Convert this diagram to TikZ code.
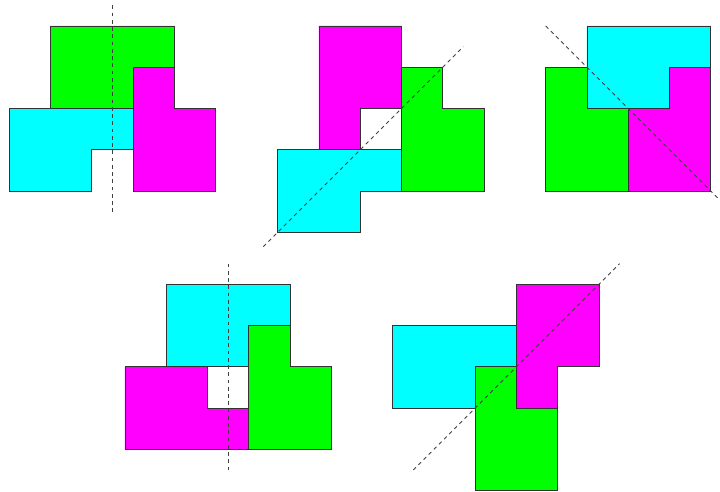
\documentclass[tikz,border=0pt]{standalone}
\definecolor{pcyan}{RGB}{0,255,255}
\definecolor{pmagenta}{RGB}{255,0,255}
\definecolor{pgreen}{RGB}{0,255,0}
\begin{document}
\begin{tikzpicture}[x=1cm,y=-1cm,
  piece/.style={draw=black!80,line width=.6pt},
  axe/.style={draw=black!75,dash pattern=on 2.6pt off 2.4pt,line width=.6pt}]
\useasboundingbox (0,0) rectangle (17.455,11.927);
% ligne du haut
\begin{scope}[shift={(0.2255,0.630)}]
\draw[piece,fill=pgreen] (1,0)--(4,0)--(4,1)--(3,1)--(3,2)--(1,2)--cycle;
\draw[piece,fill=pmagenta] (3,1)--(4,1)--(4,2)--(5,2)--(5,4)--(3,4)--cycle;
\draw[piece,fill=pcyan] (0,2)--(3,2)--(3,3)--(2,3)--(2,4)--(0,4)--cycle;
\draw[axe] (2.5,-0.5)--(2.5,4.5);
\end{scope}
\begin{scope}[shift={(6.732,0.630)}]
\draw[piece,fill=pmagenta] (1,0)--(3,0)--(3,2)--(2,2)--(2,3)--(1,3)--cycle;
\draw[piece,fill=pgreen] (3,1)--(4,1)--(4,2)--(5,2)--(5,4)--(3,4)--cycle;
\draw[piece,fill=pcyan] (0,3)--(3,3)--(3,4)--(2,4)--(2,5)--(0,5)--cycle;
\draw[axe] (-0.35,5.35)--(4.5,0.5);
\end{scope}
\begin{scope}[shift={(13.229,0.630)}]
\draw[piece,fill=pcyan] (1,0)--(4,0)--(4,1)--(3,1)--(3,2)--(1,2)--cycle;
\draw[piece,fill=pgreen] (0,1)--(1,1)--(1,2)--(2,2)--(2,4)--(0,4)--cycle;
\draw[piece,fill=pmagenta] (3,1)--(4,1)--(4,4)--(2,4)--(2,2)--(3,2)--cycle;
\draw[axe] (0,0)--(4.22,4.22);
\end{scope}
% ligne du bas
\begin{scope}[shift={(3.030,6.892)}]
\draw[piece,fill=pcyan] (1,0)--(4,0)--(4,1)--(3,1)--(3,2)--(1,2)--cycle;
\draw[piece,fill=pgreen] (3,1)--(4,1)--(4,2)--(5,2)--(5,4)--(3,4)--cycle;
\draw[piece,fill=pmagenta] (0,2)--(2,2)--(2,3)--(3,3)--(3,4)--(0,4)--cycle;
\draw[axe] (2.5,-0.5)--(2.5,4.5);
\end{scope}
\begin{scope}[shift={(9.520,6.892)}]
\draw[piece,fill=pmagenta] (3,0)--(5,0)--(5,2)--(4,2)--(4,3)--(3,3)--cycle;
\draw[piece,fill=pcyan] (0,1)--(3,1)--(3,2)--(2,2)--(2,3)--(0,3)--cycle;
\draw[piece,fill=pgreen] (2,2)--(3,2)--(3,3)--(4,3)--(4,5)--(2,5)--cycle;
\draw[axe] (0.5,4.5)--(5.5,-0.5);
\end{scope}
\end{tikzpicture}
\end{document}
